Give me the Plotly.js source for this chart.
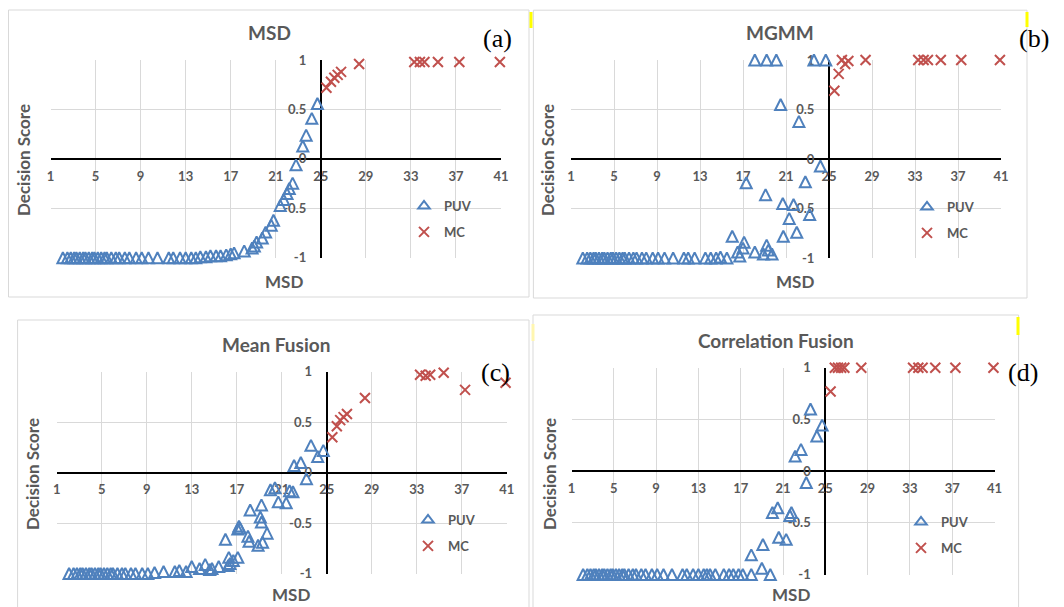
<!DOCTYPE html>
<html>
<head>
<meta charset="utf-8">
<title>Decision score against MSD</title>
<script src="https://cdn.plot.ly/plotly-3.0.1.min.js"></script>
<style>
  html, body { margin: 0; padding: 0; background: #ffffff; }
  #chart { width: 1064px; height: 607px; }
</style>
</head>
<body>
<div id="chart"></div>
<script>
// ---------------------------------------------------------------- data ----
// MSD of the PUV samples in the low range, shared by all four methods
const puvMsdLow = [2.1, 2.5, 2.8, 3.1, 3.3, 3.6, 3.9, 4.1, 4.4, 4.7, 4.9, 5.2, 5.5, 5.8,
  6.0, 6.4, 6.8, 7.1, 7.6, 8.0, 8.6, 9.1, 9.7, 10.5, 11.5, 11.9, 12.5];

// decision scores of those low-range PUV samples, per method
const puvLowMsd  = [-1, -1, -1, -1, -1, -1, -1, -1, -1, -1, -1, -1, -1, -1,
  -1, -1, -1, -1, -1, -1, -1, -1, -1, -1, -1, -1, -1];
const puvLowMgmm = [-1, -1, -1, -1, -1, -1, -1, -1, -1, -1, -1, -1, -1, -1,
  -1, -1, -1, -1, -1, -1, -1, -1, -1, -1, -1, -1, -1];
const puvLowMean = [-1, -1, -1, -1, -1, -1, -1, -1, -1, -1, -1, -1, -1, -1,
  -1, -1, -1, -1, -1, -1, -1, -1, -0.99, -0.98, -0.98, -0.97, -0.98];
const puvLowCorr = [-1, -1, -1, -1, -1, -1, -1, -1, -1, -1, -1, -1, -1, -1,
  -1, -1, -1, -1, -1, -1, -1, -1, -1, -1, -1, -1, -1];

// (a) MSD: upper-range PUV samples
const puvMsdA   = [13.0, 13.5, 13.9, 14.3, 14.8, 15.2, 15.7, 16.1, 16.6, 17.0, 17.3, 18.2,
  18.9, 19.1, 19.3, 19.8, 20.1, 20.6, 20.8, 21.4, 21.7, 22.0, 22.2, 22.5, 22.8, 23.4,
  23.7, 24.2, 24.7];
const puvScoreA = [-1, -1, -1, -0.99, -0.99, -0.98, -0.98, -0.98, -0.97, -0.96, -0.95, -0.93,
  -0.90, -0.88, -0.84, -0.80, -0.74, -0.67, -0.62, -0.47, -0.41, -0.35, -0.30, -0.245, -0.06, 0.13,
  0.24, 0.41, 0.56];

// (b) MGMM
const puvMsdB   = [13.5, 14.0, 14.5, 14.9, 15.5, 16.0, 16.5, 16.7, 17.0, 17.1, 17.3, 18.1,
  18.1, 18.9, 19.1, 19.2, 19.2, 19.35, 19.7, 20.1, 20.5, 20.7, 20.75, 21.3, 21.7, 22.0,
  22.2, 22.8, 23.2, 23.6, 24.2, 24.7];
const puvScoreB = [-1, -1, -1, -0.99, -1, -0.78, -0.94, -0.98, -0.90, -0.84, -0.24, -0.94,
  1.0, -0.96, -0.36, -0.87, 1.0, -0.92, -0.96, 1.0, 0.55, -0.45, -0.78, -0.60, -0.46, -0.74,
  0.38, -0.23, -0.56, 1.0, -0.07, 1.0];

// (c) Mean Fusion
const puvMsdC   = [13.0, 13.7, 14.2, 14.6, 14.8, 15.4, 16.0, 16.25, 16.3, 16.4, 16.7, 17.1,
  17.1, 17.2, 17.3, 18.0, 18.1, 18.2, 18.9, 19.1, 19.2, 19.2, 19.3, 19.7, 20.0, 20.4,
  20.7, 21.4, 21.7, 22.0, 22.1, 22.7, 23.2, 23.6, 24.2, 24.7];
const puvScoreC = [-0.93, -0.95, -0.91, -0.96, -0.95, -0.93, -0.66, -0.92, -0.84, -0.90, -0.87, -0.84,
  -0.56, -0.53, -0.55, -0.63, -0.68, -0.37, -0.72, -0.44, -0.49, -0.32, -0.69, -0.60, -0.17, -0.15,
  -0.29, -0.30, -0.18, -0.19, 0.07, 0.10, -0.06, 0.27, 0.16, 0.22];

// (d) Correlation Fusion
const puvMsdD   = [13.0, 13.5, 13.8, 14.1, 14.6, 15.4, 15.9, 16.3, 16.8, 17.2, 18.0, 18.0,
  19.0, 19.1, 19.8, 20.0, 20.5, 20.6, 21.3, 21.65, 21.8, 22.15, 22.7, 23.2, 23.6, 24.2, 24.7];
const puvScoreD = [-1, -1, -1, -1, -1, -1, -1, -1, -1, -1, -1, -0.81,
  -0.94, -0.71, -1, -0.40, -0.355, -0.64, -0.66, -0.43, -0.40, 0.145, 0.21, -0.11, 0.60, 0.34, 0.445];

// MC samples: MSD and decision score per method
const mcMsd     = [25.5, 25.9, 26.2, 26.5, 26.8, 28.4, 33.3, 33.8, 34.2, 35.4, 37.3, 40.9];
const mcScoreA  = [0.72, 0.78, 0.82, 0.85, 0.88, 0.96, 0.98, 0.98, 0.98, 0.98, 0.98, 0.98];
const mcScoreB  = [0.69, 0.86, 1.0, 0.96, 0.99, 1.0, 1.0, 1.0, 1.0, 1.0, 1.0, 1.0];
const mcScoreC  = [0.35, 0.46, 0.52, 0.55, 0.58, 0.74, 0.97, 0.96, 0.97, 0.99, 0.82, 0.89];
const mcScoreD  = [0.77, 1.0, 1.0, 1.0, 1.0, 1.0, 1.0, 1.0, 1.0, 1.0, 1.0, 1.0];

// axis scale and ticks
const msdRange   = [1, 41];
const msdTicks   = [1, 5, 9, 13, 17, 21, 25, 29, 33, 37, 41];
const scoreRange = [-1, 1];
const scoreTicks = [-1, -0.5, 0, 0.5, 1];
const crossMsd = 25;     // vertical axis crosses here
const crossScore = 0;    // horizontal axis crosses here

// ---------------------------------------------------------------- style ---
const W = 1064, H = 607;
const FONT = 'Lato, "Open Sans", sans-serif';
const SERIF = '"Liberation Serif", "Times New Roman", serif';
const GREY = '#595959';
const GRID = '#d9d9d9';
const BLUE = '#4F81BD';
const RED = '#C0504D';

const px = v => v / W;
const py = v => 1 - v / H;

// upright, near-equilateral open triangle centred on the point
const puvMarker = { symbol: 'arrow-down-open', angle: 180, standoff: 5.5, size: 11,
                    color: BLUE, line: { color: BLUE, width: 2 } };
const mcMarker  = { symbol: 'x-thin-open', size: 10, color: RED, line: { color: RED, width: 2 } };

// panel layout in pixels: plot = [left, right, top, bottom]
const panels = [
  { title: 'MSD', tag: '(a)', plot: [50.5, 501, 60, 257.8], box: [8.5, 529, 10, 297],
    titleAt: [269, 33], xTitleAt: [284, 281], yTitleAt: [24, 160], tagAt: [497, 38], legendAt: [404, 191],
    puvX: puvMsdLow.concat(puvMsdA), puvY: puvLowMsd.concat(puvScoreA), mcY: mcScoreA },
  { title: 'MGMM', tag: '(b)', plot: [571, 1001, 60, 258], box: [533.4, 1027, 10.2, 298],
    titleAt: [780, 33], xTitleAt: [795, 281], yTitleAt: [548, 160], tagAt: [1034, 38], legendAt: [907, 192],
    puvX: puvMsdLow.concat(puvMsdB), puvY: puvLowMgmm.concat(puvScoreB), mcY: mcScoreB },
  { title: 'Mean Fusion', tag: '(c)', plot: [56.7, 506.7, 371.7, 573.5], box: [17.6, 529, 320, 620],
    titleAt: [275.5, 344], xTitleAt: [290.7, 594], yTitleAt: [32, 474], tagAt: [495, 372], legendAt: [408, 505],
    puvX: puvMsdLow.concat(puvMsdC), puvY: puvLowMean.concat(puvScoreC), mcY: mcScoreC },
  { title: 'Correlation Fusion', tag: '(d)', plot: [571.5, 994.5, 367.7, 574.5], box: [533, 1018.6, 315, 620],
    titleAt: [776, 340], xTitleAt: [790.5, 594], yTitleAt: [549, 474], tagAt: [1023, 372], legendAt: [901, 507],
    puvX: puvMsdLow.concat(puvMsdD), puvY: puvLowCorr.concat(puvScoreD), mcY: mcScoreD }
];

const traces = [];
const layout = {
  width: W, height: H,
  margin: { l: 0, r: 0, t: 0, b: 0 },
  paper_bgcolor: '#ffffff',
  plot_bgcolor: 'rgba(0,0,0,0)',
  showlegend: true,
  hovermode: 'closest',
  font: { family: FONT, color: GREY },
  annotations: [],
  shapes: []
};

panels.forEach((p, i) => {
  const n = i === 0 ? '' : String(i + 1);
  const [l, r, t, b] = p.plot;
  const xDom = [px(l), px(r)];
  const yDom = [py(b), py(t)];
  const fx = (crossMsd - msdRange[0]) / (msdRange[1] - msdRange[0]);
  const fy = (crossScore - scoreRange[0]) / (scoreRange[1] - scoreRange[0]);
  const legendId = i === 0 ? 'legend' : 'legend' + (i + 1);

  layout['xaxis' + n] = {
    domain: xDom, range: msdRange, anchor: 'free',
    position: yDom[0] + fy * (yDom[1] - yDom[0]),
    tickmode: 'array', tickvals: msdTicks, ticktext: msdTicks.map(String),
    showgrid: true, gridcolor: GRID, gridwidth: 1, zeroline: false,
    showline: true, linecolor: '#000000', linewidth: 2, ticks: '',
    ticklabelstandoff: 5,
    tickfont: { family: FONT, size: 13, color: GREY, weight: 700 },
    layer: 'below traces', fixedrange: true
  };
  layout['yaxis' + n] = {
    domain: yDom, range: scoreRange, anchor: 'free',
    position: xDom[0] + fx * (xDom[1] - xDom[0]),
    tickmode: 'array', tickvals: scoreTicks, ticktext: scoreTicks.map(String),
    showgrid: true, gridcolor: GRID, gridwidth: 1, zeroline: false,
    showline: true, linecolor: '#000000', linewidth: 2, ticks: '',
    ticklabelstandoff: 11,
    tickfont: { family: FONT, size: 13, color: GREY, weight: 700 },
    layer: 'below traces', fixedrange: true
  };

  layout[legendId] = {
    x: px(p.legendAt[0]), y: py(p.legendAt[1]), xanchor: 'left', yanchor: 'top',
    bgcolor: 'rgba(0,0,0,0)', borderwidth: 0, itemwidth: 30,
    tracegroupgap: 6, traceorder: 'grouped',
    font: { family: FONT, size: 13, color: GREY, weight: 700 }
  };

  traces.push({
    type: 'scatter', mode: 'markers', name: 'PUV',
    x: p.puvX, y: p.puvY, xaxis: 'x' + n, yaxis: 'y' + n,
    showlegend: false, cliponaxis: false, marker: puvMarker
  });
  traces.push({
    type: 'scatter', mode: 'markers', name: 'MC',
    x: mcMsd, y: p.mcY, xaxis: 'x' + n, yaxis: 'y' + n,
    showlegend: false, cliponaxis: false, marker: mcMarker
  });
  // legend keys for the two series of this panel
  traces.push({
    type: 'scatter', mode: 'markers', name: 'PUV', x: [null], y: [null],
    xaxis: 'x' + n, yaxis: 'y' + n, legend: legendId, legendgroup: 'puv' + i,
    marker: { symbol: 'triangle-up-open', size: 10, color: BLUE, line: { color: BLUE, width: 2 } }
  });
  traces.push({
    type: 'scatter', mode: 'markers', name: 'MC', x: [null], y: [null],
    xaxis: 'x' + n, yaxis: 'y' + n, legend: legendId, legendgroup: 'mc' + i,
    marker: mcMarker
  });

  const ann = (at, text, size, extra) => Object.assign({
    x: px(at[0]), y: py(at[1]), xref: 'paper', yref: 'paper',
    xanchor: 'center', yanchor: 'middle', showarrow: false, text: text,
    font: { family: FONT, size: size, color: GREY, weight: 700 }
  }, extra || {});
  layout.annotations.push(ann(p.titleAt, p.title, 19));
  layout.annotations.push(ann(p.xTitleAt, 'MSD', 17));
  layout.annotations.push(ann(p.yTitleAt, 'Decision Score', 17, { textangle: -90 }));
  layout.annotations.push(ann(p.tagAt, p.tag, 26, { font: { family: SERIF, size: 26, color: '#000000' } }));

  layout.shapes.push({
    type: 'rect', xref: 'paper', yref: 'paper', layer: 'below',
    x0: px(p.box[0]), x1: px(p.box[1]), y0: py(p.box[3]), y1: py(p.box[2]),
    line: { color: GRID, width: 1 }, fillcolor: 'rgba(0,0,0,0)'
  });
});

// small yellow highlight strokes along the right-hand frames
[[531, 12, 28, '#ffff00'], [1027, 12, 27, '#ffff00'], [1018, 317, 335, '#ffff00'], [533, 324, 341, '#fff6b0']]
  .forEach(s => layout.shapes.push({
    type: 'line', xref: 'paper', yref: 'paper',
    x0: px(s[0]), x1: px(s[0]), y0: py(s[1]), y1: py(s[2]),
    line: { color: s[3], width: 3 }
  }));

Plotly.newPlot('chart', traces, layout, { staticPlot: true, displayModeBar: false });
</script>
</body>
</html>
